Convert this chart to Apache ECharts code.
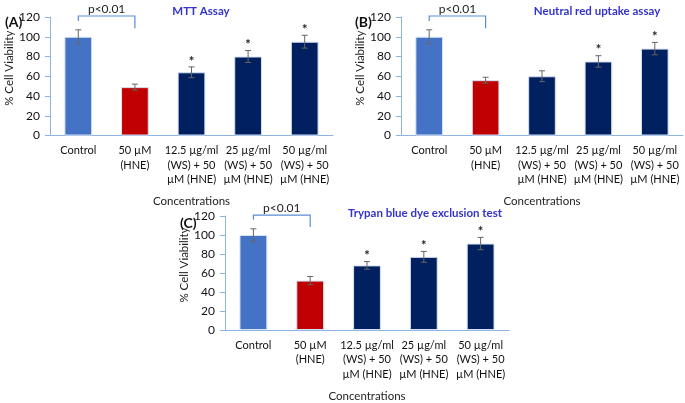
<!DOCTYPE html>
<html>
<head>
<meta charset="utf-8">
<script src="https://cdn.jsdelivr.net/npm/echarts@6/dist/echarts.min.js"></script>
<style>
  html, body { margin: 0; padding: 0; background: #fff; }
  #chart { width: 685px; height: 403px; }
</style>
</head>
<body>
<div id="chart"></div>
<script>
	// categories shared by the three panels
	var categories = ['Control', '50 µM\n(HNE)', '12.5 µg/ml\n(WS) + 50\nµM (HNE)', '25 µg/ml\n(WS) + 50\nµM (HNE)', '50 µg/ml\n(WS) + 50\nµM (HNE)'];
	var yTicks = [0, 20, 40, 60, 80, 100, 120];

	// (A) MTT
	var mttValues = [100, 49, 64, 80, 95];
	var mttErr = [7, 3, 5.5, 6, 6.5];
	var mttStar = [0, 0, 1, 1, 1];
	// (B) Neutral red
	var nrValues = [100, 56, 60, 75, 88];
	var nrErr = [7, 3, 5.5, 5.8, 6.3];
	var nrStar = [0, 0, 0, 1, 1];
	// (C) Trypan blue
	var tbValues = [100, 52, 68, 77, 91];
	var tbErr = [6.5, 4.3, 4, 5.7, 6.5];
	var tbStar = [0, 0, 1, 1, 1];

	var barColors = ['#4472c4', '#c00000', '#002060', '#002060', '#002060'];
	var axisColor = '#8eb4e3';
	var font = 'Lato, "Open Sans", sans-serif';

	var chart = echarts.init(document.getElementById('chart'));

	var grids = [
		{left: 50, top: 17, width: 283, height: 118.5},
		{left: 401, top: 17, width: 282, height: 118.5},
		{left: 225, top: 216, width: 284, height: 119}
	];

	function xAxisFor(i) {
		return {
			type: 'category', gridIndex: i, data: categories,
			name: 'Concentrations', nameLocation: 'middle', nameGap: 60,
			nameTextStyle: {fontFamily: font, fontSize: 11.5, color: '#222'},
			axisLine: {lineStyle: {color: axisColor}},
			axisTick: {lineStyle: {color: axisColor}, length: 5},
			axisLabel: {interval: 0, fontFamily: font, fontSize: 11, color: '#111', lineHeight: 14.5, margin: 8}
		};
	}
	function yAxisFor(i) {
		return {
			type: 'value', gridIndex: i, min: 0, max: 120, interval: 20,
			name: '% Cell Viability', nameLocation: 'middle', nameGap: 31, nameRotate: 90,
			nameTextStyle: {fontFamily: font, fontSize: 11.5, color: '#222', padding: [0, 0, 0, 16]},
			axisLine: {show: true, lineStyle: {color: axisColor}},
			axisTick: {show: true, lineStyle: {color: axisColor}, length: 5},
			splitLine: {show: false},
			axisLabel: {fontFamily: font, fontSize: 12, color: '#111', margin: 10}
		};
	}

	function barSeries(i, values) {
		return {
			type: 'bar', xAxisIndex: i, yAxisIndex: i, barWidth: '49%',
			data: values.map(function (v, k) {
				return {value: v, itemStyle: {color: barColors[k]}};
			}),
			itemStyle: {borderColor: '#d6e1f3', borderWidth: 1}
		};
	}

	function errSeries(i, values, errs, stars) {
		return {
			type: 'custom', xAxisIndex: i, yAxisIndex: i, z: 5,
			data: values.map(function (v, k) { return [k, v, errs[k], stars[k]]; }),
			renderItem: function (params, api) {
				var k = api.value(0), v = api.value(1), e = api.value(2), s = api.value(3);
				var hi = api.coord([k, v + e]);
				var lo = api.coord([k, v - e]);
				var style = {stroke: '#666', lineWidth: 1};
				var children = [
					{type: 'line', shape: {x1: hi[0], y1: hi[1], x2: lo[0], y2: lo[1]}, style: style},
					{type: 'line', shape: {x1: hi[0] - 3, y1: hi[1], x2: hi[0] + 3, y2: hi[1]}, style: style},
					{type: 'line', shape: {x1: lo[0] - 3, y1: lo[1], x2: lo[0] + 3, y2: lo[1]}, style: style}
				];
				if (s) {
					children.push({type: 'text', style: {
						text: '*', x: hi[0], y: hi[1] + 1, align: 'center', verticalAlign: 'bottom',
						font: 'bold 13px ' + font, fill: '#222'
					}});
				}
				return {type: 'group', children: children};
			}
		};
	}

	// bracket levels (axis units): top line, left leg end, right leg end
	var bracketLevels = [121, 116, 108.5];

	function bracketSeries(i) {
		return {
			type: 'custom', xAxisIndex: i, yAxisIndex: i, z: 6, clip: false,
			data: [[0, 1]],
			renderItem: function (params, api) {
				var a = api.coord([0, bracketLevels[0]]);
				var b = api.coord([1, bracketLevels[0]]);
				var aLow = api.coord([0, bracketLevels[1]]);
				var bLow = api.coord([1, bracketLevels[2]]);
				var style = {stroke: '#5b8bd6', lineWidth: 1.2, fill: null};
				return {type: 'group', children: [
					{type: 'polyline', shape: {points: [[aLow[0], aLow[1]], [a[0], a[1]], [b[0], b[1]], [bLow[0], bLow[1]]]}, style: style},
					{type: 'text', style: {
						text: 'p<0.01', x: (a[0] + b[0]) / 2, y: a[1] - 1, align: 'center', verticalAlign: 'bottom',
						font: '12px ' + font, fill: '#222'
					}}
				]};
			}
		};
	}

	var titleStyle = {fontFamily: font, fontSize: 11.5, fontWeight: 'bold', color: '#3333cc'};
	var letterStyle = {fontFamily: font, fontSize: 14, fontWeight: 'bold', color: '#111'};

	var option = {
		animation: false,
		title: [
			{text: 'MTT Assay', left: 196, top: 0, textAlign: 'center', textStyle: titleStyle},
			{text: 'Neutral red uptake assay', left: 592, top: 0, textAlign: 'center', textStyle: titleStyle},
			{text: 'Trypan blue dye exclusion test', left: 420, top: 202, textAlign: 'center', textStyle: titleStyle},
			{text: '(A)', left: 0, top: 10, textStyle: letterStyle},
			{text: '(B)', left: 350, top: 10, textStyle: letterStyle},
			{text: '(C)', left: 175, top: 211, textStyle: letterStyle}
		],
		grid: grids,
		xAxis: [xAxisFor(0), xAxisFor(1), xAxisFor(2)],
		yAxis: [yAxisFor(0), yAxisFor(1), yAxisFor(2)],
		series: [
			barSeries(0, mttValues), errSeries(0, mttValues, mttErr, mttStar), bracketSeries(0),
			barSeries(1, nrValues), errSeries(1, nrValues, nrErr, nrStar), bracketSeries(1),
			barSeries(2, tbValues), errSeries(2, tbValues, tbErr, tbStar), bracketSeries(2)
		]
	};

	chart.setOption(option);
</script>
</body>
</html>
